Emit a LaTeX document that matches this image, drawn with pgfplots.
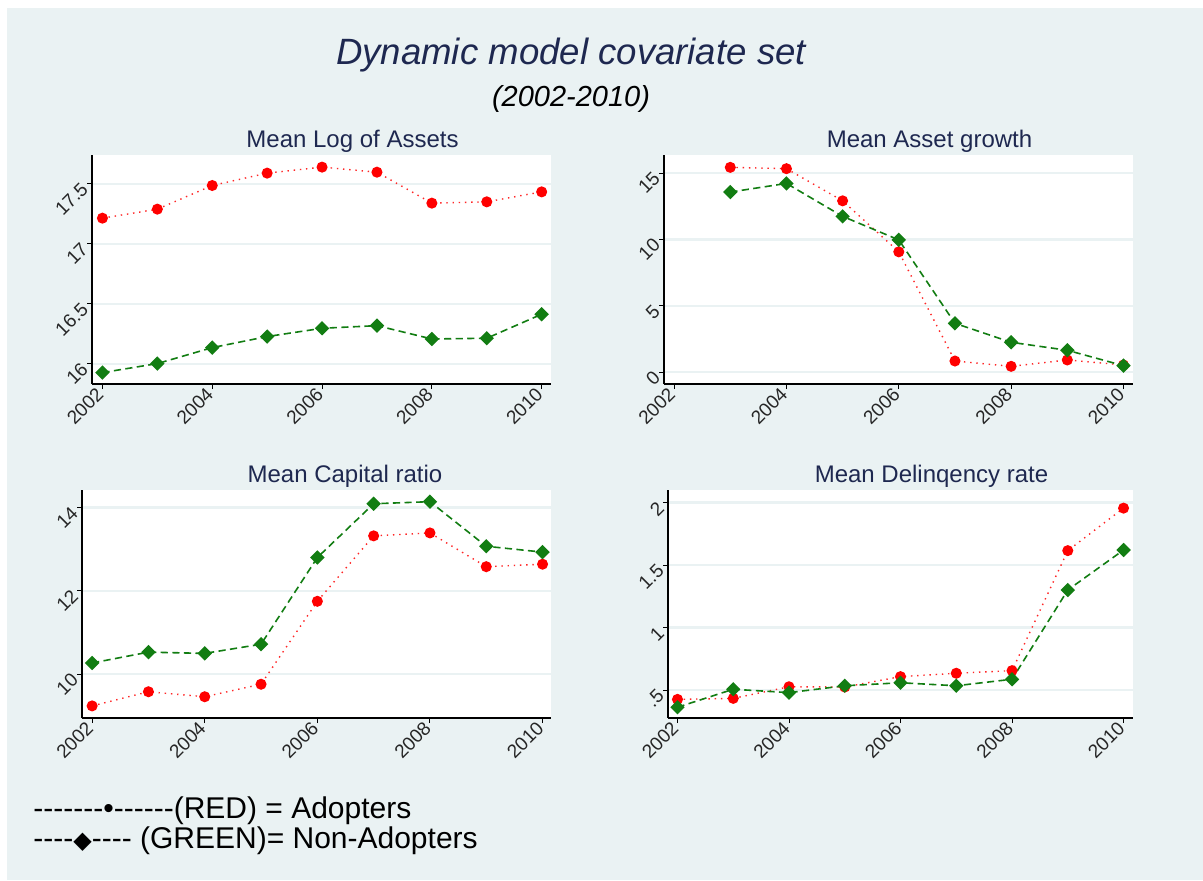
\documentclass[border=0pt]{standalone}
\usepackage{pgfplots}
\pgfplotsset{compat=1.18}
\usepackage{fontspec}
\setmainfont{Liberation Sans}
\newfontfamily\dejavu{DejaVu Sans}
\definecolor{bgc}{RGB}{234,242,243}
\definecolor{navy}{RGB}{30,40,80}
\definecolor{grn}{RGB}{18,125,18}
\definecolor{rd}{RGB}{255,0,0}
\newcommand{\hy}{-\kern0pt}

\pgfplotsset{
  panel/.style={
    scale only axis,
    anchor=north west,
    axis lines*=left,
    axis line style={-, black, line width=0.6pt},
    axis background/.style={fill=white},
    ymajorgrids,
    grid style={line width=1.1pt, color=bgc},
    tick align=outside,
    major tick length=2.5pt,
    tick style={black, line width=0.5pt},
    xtick={2002,2004,2006,2008,2010},
    xticklabels={2002,2004,2006,2008,2010},
    ticklabel style={font=\fontsize{9.5}{11}\selectfont, text=black!85},
    xticklabel style={rotate=45, anchor=east, inner sep=1.5pt},
    yticklabel style={rotate=45, anchor=east, inner sep=1.5pt},
    clip=false,
  },
  adopt/.style={color=rd!85, line width=0.7pt, dash pattern=on 0.7pt off 2.4pt,
    mark=*, mark size=2.4pt, mark options={solid, fill=rd, draw=rd}},
  nonadopt/.style={color=grn, line width=0.8pt, dash pattern=on 3.6pt off 2.2pt,
    mark=square*, mark size=2.15pt, mark options={solid, rotate=45, fill=grn, draw=grn}},
}

\begin{document}
\begin{tikzpicture}
\fill[white] (0,0) rectangle (601.5pt,440pt);
\fill[bgc] (3.5pt,0) rectangle (601.5pt,436pt);

\node[anchor=base, text=navy, font=\fontsize{18.3}{20}\selectfont\itshape] at (285.5pt,407.5pt) {Dynamic model covariate set};
\node[anchor=base, text=black, font=\fontsize{14.5}{16}\selectfont\itshape] at (285.5pt,386.5pt) {(2002-2010)};

% Panel 1
\begin{axis}[panel, at={(46pt,362.5pt)}, width=229.5pt, height=114.5pt,
  xmin=2001.81, xmax=2010.17, ymin=15.833, ymax=17.74,
  ytick={16,16.5,17,17.5}, yticklabels={16,16.5,17,17.5}]
\addplot[adopt] coordinates {(2002,17.214) (2003,17.289) (2004,17.486) (2005,17.589) (2006,17.639) (2007,17.597) (2008,17.339) (2009,17.35) (2010,17.433)};
\addplot[nonadopt] coordinates {(2002,15.928) (2003,16.003) (2004,16.136) (2005,16.228) (2006,16.297) (2007,16.319) (2008,16.208) (2009,16.214) (2010,16.414)};
\end{axis}
\node[anchor=base, text=navy, font=\fontsize{12}{14}\selectfont] at (176.25pt,366.4pt) {Mean Log of Assets};

% Panel 2
\begin{axis}[panel, at={(332pt,362.5pt)}, width=234.5pt, height=114.5pt,
  xmin=2001.82, xmax=2010.17, ymin=-0.88, ymax=16.36,
  ytick={0,5,10,15}, yticklabels={0,5,10,15}]
\addplot[adopt] coordinates {(2003,15.43) (2004,15.33) (2005,12.91) (2006,9.07) (2007,0.85) (2008,0.45) (2009,0.93) (2010,0.55)};
\addplot[nonadopt] coordinates {(2003,13.57) (2004,14.22) (2005,11.74) (2006,9.97) (2007,3.69) (2008,2.26) (2009,1.66) (2010,0.5)};
\end{axis}
\node[anchor=base, text=navy, font=\fontsize{12}{14}\selectfont] at (464.75pt,366.4pt) {Mean Asset growth};

% Panel 3
\begin{axis}[panel, at={(41pt,195pt)}, width=234.5pt, height=114pt,
  xmin=2001.82, xmax=2010.15, ymin=8.95, ymax=14.42,
  ytick={10,12,14}, yticklabels={10,12,14}]
\addplot[adopt] coordinates {(2002,9.24) (2003,9.58) (2004,9.46) (2005,9.76) (2006,11.75) (2007,13.32) (2008,13.39) (2009,12.58) (2010,12.64)};
\addplot[nonadopt] coordinates {(2002,10.27) (2003,10.53) (2004,10.50) (2005,10.72) (2006,12.80) (2007,14.09) (2008,14.14) (2009,13.07) (2010,12.93)};
\end{axis}
\node[anchor=base, text=navy, font=\fontsize{12}{14}\selectfont] at (172.5pt,198.85pt) {Mean Capital ratio};

% Panel 4
\begin{axis}[panel, at={(334pt,195pt)}, width=232.5pt, height=114pt,
  xmin=2001.83, xmax=2010.17, ymin=0.276, ymax=2.10,
  ytick={0.5,1,1.5,2}, yticklabels={.5,1,1.5,2}]
\addplot[adopt] coordinates {(2002,0.425) (2003,0.433) (2004,0.526) (2005,0.524) (2006,0.607) (2007,0.634) (2008,0.655) (2009,1.615) (2010,1.955)};
\addplot[nonadopt] coordinates {(2002,0.362) (2003,0.506) (2004,0.479) (2005,0.534) (2006,0.558) (2007,0.534) (2008,0.586) (2009,1.30) (2010,1.62)};
\end{axis}
\node[anchor=base, text=navy, font=\fontsize{12}{14}\selectfont] at (465.75pt,199pt) {Mean Delinqency rate};

% Legend text
\node[anchor=base west, inner sep=0pt, font=\fontsize{15}{17}\selectfont] at (16.5pt,31pt) {\hy\hy\hy\hy\hy\hy\hy•\hy\hy\hy\hy\hy\hy(RED) = Adopters};
\node[anchor=base west, inner sep=0pt, font=\fontsize{15}{17}\selectfont] at (16.5pt,16pt) {\hy\hy\hy\hy{\dejavu\fontsize{12}{14}\selectfont ◆}\hy\hy\hy\hy{} (GREEN)= Non-Adopters};
\end{tikzpicture}
\end{document}
